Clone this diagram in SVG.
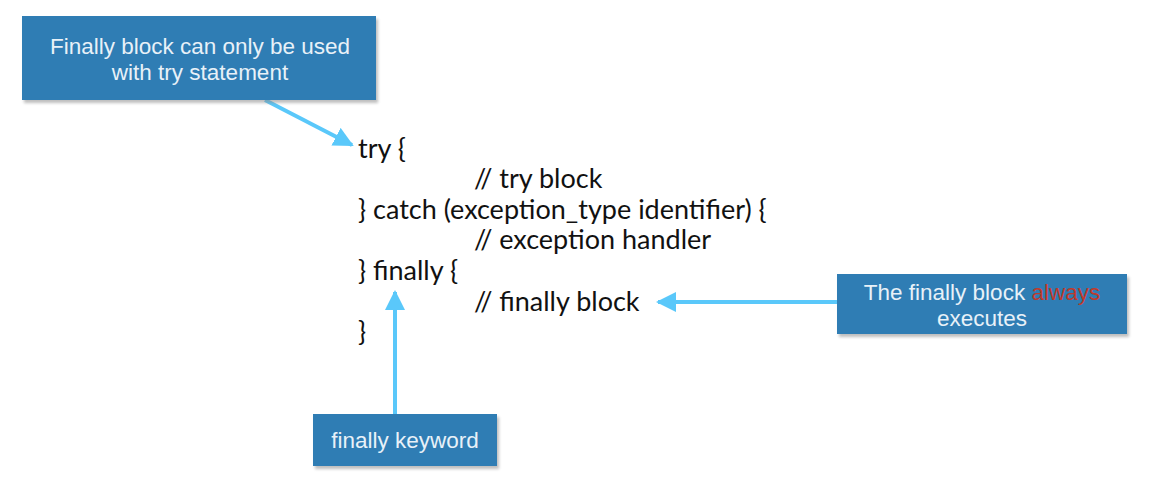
<svg xmlns="http://www.w3.org/2000/svg" width="1160" height="490" viewBox="0 0 1160 490">
<defs>
<style>
.box{fill:#2f7db4;}
.shadow{fill:#8a8a8a;opacity:0.55;}
.btxt{font-family:"Liberation Sans",Arial,sans-serif;font-size:22.5px;fill:#e8f1f8;text-anchor:middle;}
.code{font-family:Lato,"Open Sans",sans-serif;font-size:27px;fill:#111;}
.conn{stroke:#5ac8fa;stroke-width:4;fill:none;}
</style>
<marker id="ah" viewBox="0 0 10 10" refX="9" refY="5" markerWidth="5" markerHeight="5" orient="auto" markerUnits="strokeWidth">
<path d="M0,0 L10,5 L0,10 z" fill="#5ac8fa"/>
</marker>
<filter id="blur" x="-10%" y="-10%" width="120%" height="130%"><feGaussianBlur stdDeviation="1.5"/></filter>
</defs>
<rect width="1160" height="490" fill="#ffffff"/>
<g id="connectors">
<line class="conn" x1="265" y1="100" x2="352" y2="145" marker-end="url(#ah)"/>
<line class="conn" x1="838" y1="302" x2="658" y2="302" marker-end="url(#ah)"/>
<line class="conn" x1="395" y1="414" x2="395" y2="292" marker-end="url(#ah)"/>
</g>
<g id="code">
<text class="code" x="358" y="158">try {</text>
<text class="code" x="474" y="188">// try block</text>
<text class="code" x="358" y="219">} catch (exception_type identifier) {</text>
<text class="code" x="474" y="249">// exception handler</text>
<text class="code" x="358" y="280">} finally {</text>
<text class="code" x="474" y="311">// finally block</text>
<text class="code" x="358" y="341">}</text>
</g>
<g id="node-try-note">
<rect class="shadow" x="24" y="19" width="354" height="84" filter="url(#blur)"/>
<rect class="box" x="22" y="16" width="354" height="84"/>
<text class="btxt" x="200" y="54">Finally block can only be used</text>
<text class="btxt" x="200" y="80">with try statement</text>
</g>
<g id="node-always">
<rect class="shadow" x="839" y="277" width="290" height="60" filter="url(#blur)"/>
<rect class="box" x="837" y="274" width="290" height="60"/>
<text class="btxt" x="982" y="300">The finally block <tspan fill="#c0392b">always</tspan></text>
<text class="btxt" x="982" y="326">executes</text>
</g>
<g id="node-keyword">
<rect class="shadow" x="315" y="417" width="184" height="52" filter="url(#blur)"/>
<rect class="box" x="313" y="414" width="184" height="52"/>
<text class="btxt" x="405" y="448">finally keyword</text>
</g>
</svg>
